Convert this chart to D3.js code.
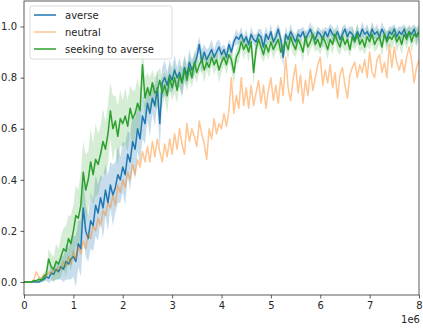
<!DOCTYPE html>
<html><head><meta charset="utf-8">
<script src="https://cdn.jsdelivr.net/npm/d3@7"></script>
<style>body{margin:0;background:#fff}svg{display:block}text{font-family:"DejaVu Sans",sans-serif}</style>
</head><body>
<svg id="c" width="423" height="328"></svg>
<script>
// steps in units of 1e6, every 0.05
const stepSize = 0.05;
const seriesNames = ["averse", "neutral", "seeking to averse"];
const xTicks = [0,1,2,3,4,5,6,7,8];
const yTicks = [0.0,0.2,0.4,0.6,0.8,1.0];

const averse = [
0,0,0,0,0,0,0,0.005,0.01,0.02,
0.015,0.035,0.03,0.05,0.04,0.06,0.05,0.08,0.07,0.09,
0.1,0.08,0.15,0.13,0.29,0.2,0.17,0.24,0.22,0.3,
0.27,0.33,0.29,0.36,0.31,0.38,0.34,0.37,0.42,0.4,
0.45,0.42,0.5,0.47,0.55,0.52,0.6,0.56,0.65,0.62,
0.7,0.66,0.72,0.69,0.76,0.62,0.78,0.8,0.77,0.81,
0.79,0.83,0.8,0.82,0.78,0.84,0.81,0.86,0.83,0.85,
0.88,0.93,0.86,0.9,0.87,0.89,0.91,0.88,0.9,0.92,
0.89,0.91,0.88,0.93,0.9,0.94,0.96,0.95,0.97,0.94,
0.96,0.93,0.97,0.95,0.94,0.97,0.96,0.92,0.97,0.95,
0.98,0.94,0.96,0.99,0.95,0.88,0.97,0.95,0.98,0.96,
0.94,0.97,0.96,0.98,0.95,0.97,0.99,0.96,0.95,0.98,
0.97,0.95,0.98,0.96,0.99,0.97,0.96,0.98,0.95,0.97,
0.99,0.96,0.98,0.97,0.95,0.98,0.96,0.99,0.97,0.98,
0.96,0.99,0.97,0.98,0.96,0.99,0.97,0.95,0.98,0.97,
0.99,0.96,0.98,0.97,0.99,0.96,0.98,0.97,0.99,0.96,0.98];

const averseSpread = [
0,0,0,0,0,0,0.002,0.005,0.01,0.015,
0.02,0.03,0.025,0.04,0.03,0.05,0.05,0.07,0.06,0.08,
0.08,0.1,0.09,0.11,0.12,0.1,0.09,0.11,0.1,0.12,
0.11,0.09,0.12,0.1,0.11,0.09,0.12,0.1,0.11,0.09,
0.1,0.12,0.09,0.11,0.1,0.12,0.09,0.1,0.09,0.08,
0.07,0.09,0.06,0.08,0.07,0.1,0.06,0.07,0.05,0.06,
0.05,0.06,0.04,0.06,0.05,0.05,0.04,0.05,0.04,0.04,
0.04,0.03,0.05,0.03,0.04,0.03,0.04,0.03,0.04,0.03,
0.03,0.02,0.03,0.02,0.03,0.02,0.03,0.02,0.03,0.02,
0.03,0.02,0.03,0.02,0.03,0.02,0.03,0.04,0.03,0.02,
0.03,0.02,0.03,0.02,0.03,0.04,0.03,0.02,0.03,0.02,
0.03,0.02,0.03,0.02,0.03,0.02,0.03,0.02,0.03,0.02,
0.02,0.03,0.02,0.03,0.02,0.03,0.02,0.03,0.02,0.03,
0.02,0.03,0.02,0.03,0.02,0.03,0.02,0.03,0.02,0.03,
0.02,0.03,0.02,0.03,0.02,0.03,0.02,0.03,0.02,0.03,
0.02,0.03,0.02,0.03,0.02,0.03,0.02,0.03,0.02,0.03,0.02];

const neutral = [
0,0,0,0,0.01,0.04,0.02,0.01,0.03,0.02,
0.04,0.03,0.05,0.04,0.06,0.05,0.08,0.06,0.1,0.07,
0.12,0.09,0.14,0.11,0.16,0.13,0.19,0.17,0.22,0.2,
0.25,0.22,0.28,0.26,0.31,0.29,0.34,0.3,0.38,0.35,
0.4,0.37,0.43,0.4,0.46,0.42,0.48,0.45,0.51,0.47,
0.53,0.47,0.55,0.49,0.56,0.51,0.47,0.54,0.49,0.56,
0.5,0.58,0.52,0.6,0.54,0.5,0.62,0.55,0.6,0.57,
0.53,0.63,0.58,0.54,0.48,0.6,0.56,0.64,0.58,0.62,
0.6,0.66,0.61,0.67,0.8,0.66,0.73,0.68,0.8,0.69,
0.76,0.68,0.77,0.69,0.74,0.79,0.7,0.77,0.68,0.75,
0.8,0.71,0.77,0.7,0.8,0.73,0.88,0.76,0.71,0.79,
0.85,0.74,0.81,0.7,0.79,0.73,0.83,0.75,0.8,0.85,
0.88,0.77,0.83,0.78,0.85,0.76,0.82,0.72,0.81,0.84,
0.77,0.72,0.81,0.84,0.86,0.8,0.85,0.82,0.87,0.8,
0.9,0.82,0.8,0.87,0.89,0.82,0.86,0.8,0.93,0.84,
0.92,0.86,0.83,0.87,0.82,0.88,0.92,0.87,0.78,0.84,0.87];

const seeking = [
0,0,0,0,0.005,0.005,0.01,0.008,0.02,0.03,
0.09,0.06,0.05,0.08,0.07,0.1,0.13,0.12,0.17,0.15,
0.2,0.26,0.25,0.3,0.43,0.36,0.4,0.47,0.42,0.48,
0.46,0.5,0.55,0.52,0.58,0.67,0.6,0.63,0.57,0.64,
0.62,0.65,0.61,0.68,0.64,0.66,0.7,0.67,0.85,0.72,
0.76,0.73,0.78,0.74,0.75,0.79,0.74,0.77,0.73,0.8,
0.76,0.8,0.75,0.81,0.78,0.83,0.79,0.84,0.8,0.86,
0.82,0.85,0.87,0.83,0.86,0.84,0.88,0.85,0.87,0.83,
0.86,0.88,0.85,0.89,0.87,0.82,0.88,0.9,0.94,0.91,
0.93,0.9,0.94,0.82,0.91,0.95,0.92,0.89,0.93,0.9,
0.94,0.91,0.93,0.95,0.9,0.92,0.94,0.91,0.96,0.93,
0.91,0.95,0.93,0.9,0.96,0.92,0.94,0.97,0.93,0.95,
0.92,0.96,0.94,0.91,0.95,0.93,0.97,0.94,0.92,0.96,
0.93,0.95,0.91,0.96,0.94,0.97,0.93,0.95,0.92,0.96,
0.94,0.97,0.93,0.95,0.96,0.92,0.97,0.94,0.96,0.95,
0.97,0.94,0.96,0.93,0.97,0.95,0.98,0.94,0.97,0.96,0.98];

const seekingSpread = [
0,0,0,0,0.005,0.005,0.01,0.01,0.015,0.02,
0.04,0.05,0.05,0.07,0.06,0.08,0.08,0.1,0.09,0.11,
0.1,0.12,0.11,0.13,0.12,0.14,0.11,0.13,0.12,0.14,
0.12,0.11,0.13,0.1,0.12,0.11,0.13,0.1,0.12,0.11,
0.09,0.11,0.1,0.09,0.11,0.09,0.1,0.08,0.09,0.08,
0.06,0.07,0.05,0.06,0.07,0.05,0.06,0.05,0.07,0.05,
0.05,0.06,0.05,0.04,0.06,0.05,0.04,0.05,0.04,0.05,
0.04,0.03,0.04,0.05,0.03,0.04,0.03,0.04,0.03,0.05,
0.04,0.03,0.04,0.03,0.04,0.05,0.03,0.04,0.03,0.04,
0.03,0.04,0.03,0.05,0.04,0.03,0.04,0.03,0.04,0.03,
0.03,0.04,0.03,0.04,0.03,0.04,0.03,0.04,0.03,0.04,
0.03,0.04,0.03,0.04,0.03,0.04,0.03,0.04,0.03,0.04,
0.03,0.04,0.03,0.04,0.03,0.04,0.03,0.04,0.03,0.04,
0.03,0.04,0.03,0.04,0.03,0.04,0.03,0.04,0.03,0.04,
0.03,0.04,0.03,0.04,0.03,0.04,0.03,0.04,0.03,0.04,
0.03,0.04,0.03,0.04,0.03,0.04,0.03,0.04,0.03,0.04,0.03];

const colors = {averse:"#1f77b4", neutral:"#ff7f0e", seeking:"#2ca02c"};

const svg = d3.select("#c");
const L = 24, R = 419, T = 1, B = 295;
const x = d3.scaleLinear().domain([0, 8]).range([L, R]);
const y = d3.scaleLinear().domain([-0.051, 1.1]).range([B, T]);

const mk = (vals, spread) => vals.map((v,i)=>({x:i*stepSize, v, lo: spread? v-spread[i] : v, hi: spread? v+spread[i] : v}));
const dA = mk(averse, averseSpread), dN = mk(neutral), dS = mk(seeking, seekingSpread);

const clip = svg.append("clipPath").attr("id","clp").append("rect")
  .attr("x",L).attr("y",T).attr("width",R-L).attr("height",B-T);
const g = svg.append("g").attr("clip-path","url(#clp)");

const area = d3.area().x(d=>x(d.x)).y0(d=>y(d.lo)).y1(d=>y(d.hi));
const line = d3.line().x(d=>x(d.x)).y(d=>y(d.v));

g.append("path").datum(dA).attr("d",area).attr("fill",colors.averse).attr("fill-opacity",0.25);
g.append("path").datum(dA).attr("d",line).attr("fill","none").attr("stroke",colors.averse).attr("stroke-width",1.5).attr("stroke-linejoin","round");
g.append("path").datum(dN).attr("d",line).attr("fill","none").attr("stroke",colors.neutral).attr("stroke-opacity",0.45).attr("stroke-width",1.5).attr("stroke-linejoin","round");
g.append("path").datum(dS).attr("d",area).attr("fill",colors.seeking).attr("fill-opacity",0.2);
g.append("path").datum(dS).attr("d",line).attr("fill","none").attr("stroke",colors.seeking).attr("stroke-width",1.5).attr("stroke-linejoin","round");

// axes
const xa = svg.append("g").attr("transform",`translate(0,${B})`)
  .call(d3.axisBottom(x).tickValues(xTicks).tickFormat(d3.format("d")).tickSize(3.5).tickPadding(3.5));
const ya = svg.append("g").attr("transform",`translate(${L},0)`)
  .call(d3.axisLeft(y).tickValues(yTicks).tickFormat(d3.format(".1f")).tickSize(3.5).tickPadding(3.5));
[xa,ya].forEach(a=>{
  a.select(".domain").remove();
  a.selectAll("line").attr("stroke","#333").attr("stroke-width",0.8);
  a.selectAll("text").attr("font-size",10).attr("fill","#262626").attr("font-family","DejaVu Sans");
});
svg.append("rect").attr("x",L).attr("y",T).attr("width",R-L).attr("height",B-T)
  .attr("fill","none").attr("stroke","#333").attr("stroke-width",0.8);
svg.append("text").attr("x",R+1).attr("y",323).attr("text-anchor","end")
  .attr("font-size",10).attr("fill","#262626").text("1e6");

// legend
const lg = svg.append("g");
lg.append("rect").attr("x",30).attr("y",6).attr("width",142).attr("height",53).attr("rx",2.5)
  .attr("fill","#fff").attr("fill-opacity",0.8).attr("stroke","#d0d0d0").attr("stroke-width",0.8);
const items = [
  {name:seriesNames[0], c:colors.averse, op:1},
  {name:seriesNames[1], c:colors.neutral, op:0.45},
  {name:seriesNames[2], c:colors.seeking, op:1}];
items.forEach((it,i)=>{
  const yy = 15 + i*17;
  lg.append("line").attr("x1",34).attr("x2",56).attr("y1",yy).attr("y2",yy)
    .attr("stroke",it.c).attr("stroke-opacity",it.op).attr("stroke-width",1.5);
  lg.append("text").attr("x",65).attr("y",yy+3.6).attr("font-size",10).attr("fill","#262626").text(it.name);
});
</script>
</body></html>
